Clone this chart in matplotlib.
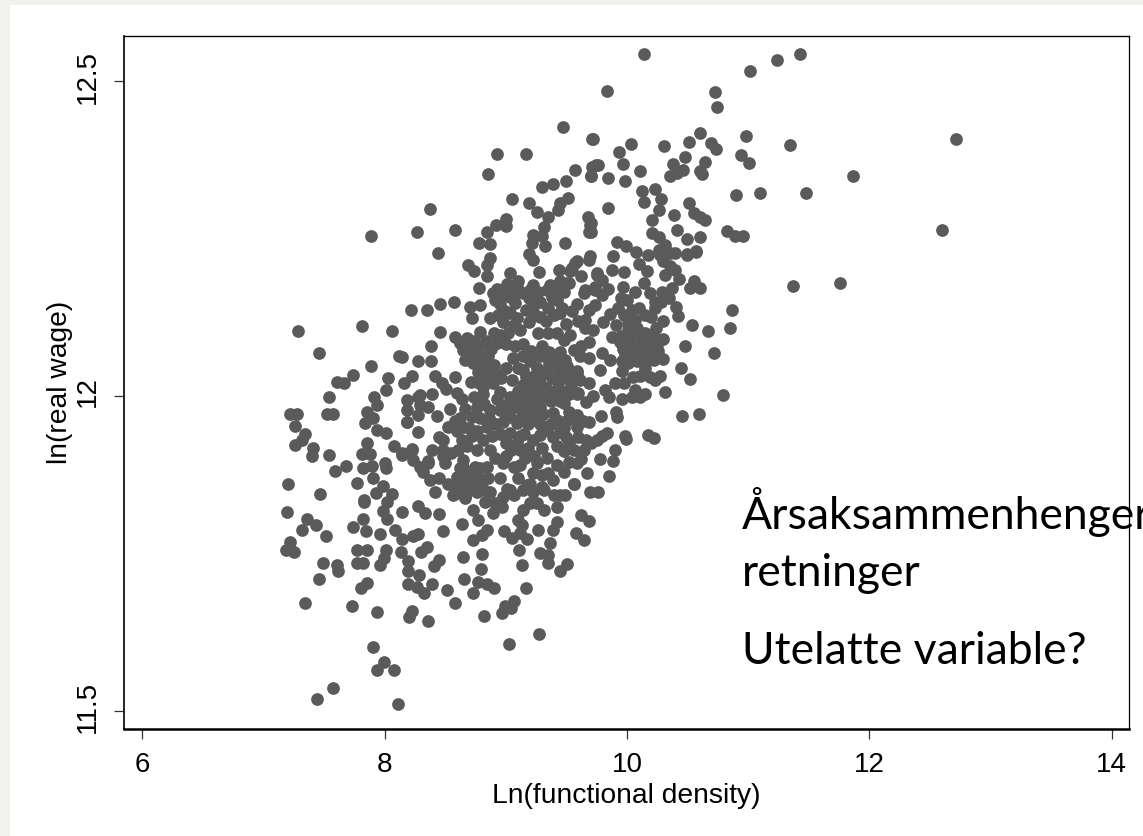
import matplotlib.pyplot as plt
from matplotlib.patches import Rectangle
from matplotlib.transforms import ScaledTranslation

# (ln functional density, ln real wage)
far_right = [
    (11.02, 12.517), (11.24, 12.534), (11.43, 12.543), (10.985, 12.413), (11.35, 12.399),
    (10.94, 12.383), (11.01, 12.371), (12.72, 12.408), (11.87, 12.35), (10.90, 12.32),
    (11.10, 12.322), (11.48, 12.322), (10.83, 12.262), (10.895, 12.254), (10.957, 12.254),
    (12.60, 12.264), (11.37, 12.175), (11.756, 12.18), (10.864, 12.136), (10.85, 12.108),
    (10.79, 12.002),
]
upper_right = [
    (10.137, 12.543), (9.835, 12.485), (10.73, 12.483), (10.743, 12.459), (9.72, 12.409),
    (10.03, 12.401), (9.934, 12.387), (9.97, 12.368), (10.308, 12.397), (10.512, 12.404),
    (10.60, 12.418), (10.694, 12.402), (10.732, 12.392), (10.479, 12.38), (10.38, 12.369),
    (10.647, 12.372), (10.60, 12.357), (10.62, 12.353), (10.462, 12.359), (10.413, 12.354),
    (10.352, 12.35), (10.112, 12.357), (9.765, 12.367), (9.71, 12.364), (9.705, 12.35),
    (9.848, 12.346), (9.984, 12.341), (10.127, 12.325), (10.137, 12.308), (10.234, 12.329),
    (10.281, 12.313), (10.267, 12.296), (10.512, 12.306), (10.55, 12.29), (10.605, 12.284),
    (10.647, 12.28), (10.39, 12.288), (10.211, 12.28), (9.848, 12.298), (9.705, 12.275),
    (9.705, 12.261), (10.413, 12.264), (10.60, 12.252), (10.498, 12.25), (10.206, 12.259),
    (10.261, 12.253), (10.316, 12.24), (10.358, 12.227), (9.922, 12.245), (9.994, 12.239),
    (10.077, 12.229), (10.178, 12.224), (10.275, 12.224), (9.885, 12.223), (10.572, 12.23),
    (10.50, 12.224),
]
right_middle = [
    (9.972, 12.197), (9.752, 12.195), (9.697, 12.222), (9.573, 12.211), (9.532, 12.198),
    (9.794, 12.185), (9.738, 12.174), (9.656, 12.169), (9.794, 12.161), (9.587, 12.147),
    (9.683, 12.137), (9.504, 12.179), (9.463, 12.14), (9.656, 12.121), (9.656, 12.108),
    (9.80, 12.118), (10.165, 12.198), (10.137, 12.179), (9.967, 12.174), (10.07, 12.166),
    (10.0, 12.153), (10.192, 12.163), (10.234, 12.15), (10.234, 12.14), (10.041, 12.137),
    (10.151, 12.129), (10.07, 12.121), (10.013, 12.116), (9.911, 12.113), (10.083, 12.108),
    (9.876, 12.094), (10.013, 12.105), (9.945, 12.086), (10.242, 12.108), (10.192, 12.097),
    (10.302, 12.091), (10.248, 12.081), (10.151, 12.079), (10.07, 12.071), (9.986, 12.065),
    (10.206, 12.071), (10.297, 12.059), (10.013, 12.052), (9.959, 12.039), (10.11, 12.063),
    (10.316, 12.192), (10.426, 12.186), (10.55, 12.182), (10.523, 12.171), (10.60, 12.171),
    (10.372, 12.171), (10.289, 12.166), (10.405, 12.142), (10.418, 12.127), (10.539, 12.113),
    (10.669, 12.104), (10.476, 12.079), (10.715, 12.069), (10.449, 12.044), (10.523, 12.027),
    (10.597, 11.972), (10.451, 11.969), (10.316, 12.006), (10.275, 12.032), (10.192, 12.03),
    (10.11, 12.032), (10.234, 12.026), (10.151, 12.003), (10.07, 12.01), (10.041, 11.999),
    (9.959, 11.995), (9.856, 11.999), (10.11, 11.999), (9.912, 11.975), (9.918, 11.967),
    (9.785, 11.969), (9.691, 11.958), (9.774, 12.041), (9.835, 11.941), (9.794, 11.936),
    (9.986, 11.936), (10.178, 11.938), (10.22, 11.933), (9.691, 12.086), (9.532, 12.097),
    (9.56, 12.073), (9.615, 12.063), (9.683, 12.06), (9.794, 12.068), (9.862, 12.057),
    (9.477, 12.089), (9.49, 12.057), (9.587, 12.036), (9.49, 12.041), (9.683, 12.02),
    (9.615, 12.026), (9.518, 12.004), (9.587, 12.004), (9.477, 11.989), (9.518, 11.975),
    (9.587, 11.97), (9.587, 11.951), (9.477, 11.949), (10.399, 12.227), (10.302, 12.214),
    (10.358, 12.206), (10.261, 12.232), (10.5, 12.226), (10.572, 12.229),
]
upper_left = [
    (7.891, 12.254), (8.376, 12.297), (8.266, 12.261), (8.58, 12.264), (8.444, 12.227),
    (8.931, 12.385), (9.171, 12.385), (9.472, 12.427), (9.713, 12.408), (8.857, 12.353),
    (9.571, 12.359), (9.703, 12.35), (9.744, 12.367), (9.498, 12.341), (9.386, 12.337),
    (9.303, 12.332), (9.05, 12.313), (9.193, 12.306), (9.257, 12.292), (9.51, 12.315),
    (9.449, 12.306), (9.435, 12.296), (9.352, 12.284), (9.319, 12.269), (9.678, 12.285),
    (9.697, 12.272), (9.689, 12.261), (9.485, 12.243), (9.328, 12.239), (9.298, 12.254),
    (9.229, 12.256), (9.216, 12.243), (9.188, 12.225), (9.229, 12.216), (9.0, 12.281),
    (9.0, 12.27), (8.918, 12.271), (8.844, 12.26), (8.783, 12.243), (8.871, 12.241),
    (8.871, 12.219), (8.844, 12.208), (8.844, 12.191), (8.692, 12.208), (8.742, 12.199),
    (8.783, 12.171), (9.039, 12.195), (9.009, 12.178), (9.10, 12.182), (9.278, 12.197),
    (8.898, 12.164), (8.981, 12.163), (9.146, 12.163), (9.229, 12.177), (9.366, 12.177),
    (9.449, 12.182), (9.518, 12.179), (9.546, 12.203), (9.587, 12.214), (9.683, 12.216),
    (9.752, 12.192), (9.738, 12.169), (9.642, 12.163),
]
centre = [
    (8.216, 12.137), (8.348, 12.137), (8.458, 12.146), (8.576, 12.149), (8.706, 12.142),
    (8.788, 12.145), (8.72, 12.124), (8.871, 12.124), (8.954, 12.147), (9.036, 12.158),
    (9.036, 12.132), (8.981, 12.118), (9.201, 12.169), (9.229, 12.142), (9.339, 12.169),
    (9.422, 12.153), (9.449, 12.132), (9.284, 12.126), (9.118, 12.166), (9.188, 12.118),
    (9.118, 12.105), (8.788, 12.102), (8.954, 12.097), (8.458, 12.102), (8.582, 12.093),
    (8.384, 12.08), (8.692, 12.078), (8.775, 12.073), (8.65, 12.073), (8.857, 12.063),
    (8.733, 12.052), (8.816, 12.036), (8.147, 12.062), (8.279, 12.056), (8.384, 12.056),
    (8.224, 12.032), (8.161, 12.02), (8.412, 12.032), (8.472, 12.02), (8.508, 12.011),
    (8.712, 12.023), (8.816, 12.015), (8.898, 12.02), (8.954, 12.007), (8.816, 12.004),
    (8.637, 11.995), (8.293, 12.002), (8.39, 12.004), (8.183, 11.994), (8.293, 11.986),
    (8.362, 11.983), (8.431, 11.969), (8.279, 11.97), (8.188, 11.978), (8.188, 11.958),
    (8.527, 11.951), (8.279, 11.943), (8.761, 11.983), (8.871, 11.978), (8.954, 11.978),
    (8.72, 11.967), (8.65, 11.951), (8.637, 11.93), (8.72, 11.936), (8.844, 11.951),
    (8.885, 11.936), (8.871, 11.914), (8.913, 11.901), (9.036, 11.967), (9.092, 11.957),
    (9.078, 11.983), (8.981, 11.959), (9.036, 11.999), (9.118, 11.999), (9.188, 12.02),
    (9.146, 12.041), (9.146, 12.063), (9.284, 12.063), (9.422, 12.057), (9.504, 12.047),
    (9.339, 12.041), (9.284, 12.02), (9.422, 12.026), (9.587, 12.039), (9.394, 12.004),
    (9.477, 12.007), (9.229, 12.004), (9.16, 11.978), (9.284, 11.983), (9.394, 11.973),
    (9.229, 11.962), (9.339, 11.946), (9.449, 11.943), (9.587, 11.962), (9.118, 11.936),
    (9.229, 11.93), (9.092, 11.925), (9.036, 11.941), (8.981, 11.893), (8.844, 11.888),
    (9.064, 11.888), (9.16, 11.901), (9.257, 11.893), (9.339, 11.901), (9.352, 11.877),
    (9.394, 11.867), (9.229, 11.877), (9.477, 11.912), (9.56, 11.914), (9.642, 11.914),
    (9.477, 11.88), (9.587, 11.893), (9.67, 11.877), (9.56, 11.861), (9.752, 11.93),
    (9.904, 11.914), (9.885, 11.897), (9.994, 11.932), (9.856, 11.873), (9.697, 11.848),
    (9.765, 11.848), (9.449, 11.843), (9.312, 11.851), (9.229, 11.848), (9.146, 11.851),
    (9.036, 11.851), (8.981, 11.84), (8.65, 11.888), (8.748, 11.888), (8.596, 11.872),
    (8.706, 11.861), (8.816, 11.867), (8.596, 11.846), (8.871, 11.848), (8.761, 11.848),
    (8.5, 11.893), (8.486, 11.914), (8.39, 11.914), (8.224, 11.914), (8.293, 11.888),
    (8.362, 11.893), (8.376, 11.867), (8.417, 11.848), (8.142, 11.909), (8.238, 11.898),
]
left_middle = [
    (7.288, 12.103), (7.817, 12.111), (8.062, 12.104), (7.457, 12.069), (8.122, 12.063),
    (7.891, 12.048), (7.742, 12.034), (7.605, 12.023), (7.666, 12.02), (7.539, 11.999),
    (8.031, 12.028), (8.01, 12.009), (7.916, 11.999), (7.941, 11.986), (7.523, 11.971),
    (7.577, 11.971), (7.22, 11.971), (7.28, 11.971), (7.261, 11.952), (7.853, 11.975),
    (7.903, 11.965), (7.839, 11.957), (7.936, 11.946), (8.012, 11.941), (7.344, 11.939),
    (7.261, 11.922), (7.316, 11.93), (7.412, 11.917), (7.399, 11.904), (7.539, 11.906),
    (7.853, 11.925), (7.812, 11.908), (7.88, 11.908), (8.081, 11.921), (8.142, 11.906),
    (8.227, 11.916), (8.004, 11.893), (8.01, 11.885), (7.682, 11.889), (7.591, 11.881),
    (7.825, 11.885), (7.894, 11.889), (7.903, 11.87), (7.77, 11.862), (7.201, 11.86),
    (7.467, 11.845), (7.93, 11.846), (7.99, 11.857), (8.059, 11.844), (7.833, 11.835),
    (8.486, 11.93), (8.486, 11.904), (8.32, 11.88), (8.362, 11.896), (8.568, 11.843),
    (8.65, 11.899), (8.637, 11.877), (8.624, 11.856), (8.279, 11.999), (8.183, 11.959),
]
lower_left = [
    (7.197, 11.816), (7.357, 11.804), (7.432, 11.795), (7.321, 11.787), (7.517, 11.778),
    (7.22, 11.768), (7.184, 11.755), (7.253, 11.752), (7.495, 11.734), (7.605, 11.732),
    (7.614, 11.722), (7.457, 11.71), (7.346, 11.671), (7.734, 11.666), (7.941, 11.657),
    (7.831, 11.831), (7.99, 11.817), (8.023, 11.832), (8.023, 11.804), (8.144, 11.815),
    (7.82, 11.804), (7.742, 11.792), (7.845, 11.786), (7.963, 11.781), (8.087, 11.787),
    (8.147, 11.773), (8.279, 11.825), (8.334, 11.814), (8.447, 11.813), (8.637, 11.797),
    (8.483, 11.786), (8.279, 11.781), (8.238, 11.777), (8.136, 11.753), (8.012, 11.755),
    (7.998, 11.742), (7.963, 11.732), (7.77, 11.756), (7.853, 11.755), (7.775, 11.734),
    (7.825, 11.735), (8.192, 11.738), (8.192, 11.722), (8.348, 11.76), (8.301, 11.752),
    (8.45, 11.739), (8.409, 11.73), (8.65, 11.744), (8.659, 11.71), (8.287, 11.716),
    (8.197, 11.701), (8.266, 11.696), (8.326, 11.687), (8.395, 11.701), (8.519, 11.692),
    (8.577, 11.671), (7.853, 11.703), (7.803, 11.695), (8.23, 11.659), (8.202, 11.649),
    (8.362, 11.643), (7.903, 11.602), (7.998, 11.577), (7.938, 11.564), (8.081, 11.564),
    (7.577, 11.536), (7.445, 11.518), (8.109, 11.511),
]
lower_centre = [
    (8.808, 11.749), (8.797, 11.725), (8.775, 11.705), (8.844, 11.701), (8.907, 11.695),
    (8.733, 11.687), (8.822, 11.65), (9.025, 11.606), (9.278, 11.622), (9.064, 11.675),
    (9.045, 11.663), (8.995, 11.666), (8.973, 11.656), (9.171, 11.695), (9.136, 11.732),
    (9.111, 11.755), (9.105, 11.803), (9.133, 11.795), (8.989, 11.786), (9.05, 11.774),
    (9.118, 11.782), (9.174, 11.773), (9.265, 11.787), (9.366, 11.766), (9.284, 11.75),
    (9.352, 11.747), (9.352, 11.734), (9.504, 11.733), (9.449, 11.722), (9.394, 11.787),
    (9.427, 11.8), (9.581, 11.782), (9.642, 11.772), (9.62, 11.811), (9.691, 11.801),
    (9.565, 11.86), (8.733, 11.771), (8.803, 11.779), (8.844, 11.787), (8.775, 11.803),
    (8.733, 11.819), (8.898, 11.814), (8.968, 11.824), (8.83, 11.832), (8.913, 11.83),
    (8.665, 11.838), (9.009, 11.853), (9.064, 11.843), (9.146, 11.819), (9.201, 11.83),
    (9.312, 11.819), (9.257, 11.83), (9.422, 11.824), (9.402, 11.843), (9.485, 11.843),
    (9.298, 11.856), (9.174, 11.859),
]
# overlapping dots inside the solid dark blobs, positions only estimated
dense_top = [
    (8.93, 12.17), (9.02, 12.172), (9.09, 12.174), (9.27, 12.165), (9.38, 12.158),
    (8.91, 12.152), (8.99, 12.135), (9.08, 12.148), (9.19, 12.155), (9.28, 12.15),
    (9.35, 12.14), (9.48, 12.165), (9.41, 12.172), (8.94, 12.128), (9.09, 12.124),
    (9.24, 12.128), (9.33, 12.12), (9.4, 12.128), (9.07, 12.113), (9.17, 12.136),
]
dense_left = [
    (8.62, 12.085), (8.68, 12.092), (8.74, 12.088), (8.82, 12.082), (8.88, 12.075),
    (8.66, 12.058), (8.72, 12.07), (8.79, 12.058), (8.84, 12.046), (8.9, 12.05),
    (8.77, 12.038), (8.86, 12.03), (8.92, 12.035), (8.78, 12.02), (8.96, 12.028),
    (8.84, 12.088), (8.93, 12.084), (9.0, 12.082), (8.9, 12.1), (9.02, 12.1),
]
dense_main = [
    (9.14, 12.082), (9.21, 12.072), (9.3, 12.08), (9.36, 12.07), (9.45, 12.07),
    (9.2, 12.055), (9.26, 12.045), (9.36, 12.052), (9.44, 12.043), (9.52, 12.03),
    (9.17, 12.03), (9.23, 12.032), (9.31, 12.035), (9.38, 12.028), (9.47, 12.028),
    (9.54, 12.018), (9.14, 12.018), (9.24, 12.012), (9.33, 12.012), (9.43, 12.014),
    (9.1, 12.008), (9.16, 12.004), (9.31, 11.998), (9.37, 11.992), (9.45, 11.992),
    (9.2, 11.99), (9.27, 11.998), (9.1, 11.988), (9.22, 11.975), (9.31, 11.972),
    (9.42, 11.962), (9.5, 11.96), (9.13, 11.968), (9.18, 11.955), (9.28, 11.955),
    (9.37, 11.955), (9.5, 11.935), (9.15, 11.94), (9.28, 11.938), (9.39, 11.935),
    (9.18, 11.918), (9.3, 11.918), (9.42, 11.92), (9.12, 11.915), (9.23, 11.905),
    (9.52, 11.925), (9.6, 11.935), (9.66, 11.93), (9.62, 11.9), (9.52, 11.895),
]
dense_low = [
    (8.66, 11.98), (8.74, 11.998), (8.82, 11.988), (8.93, 11.995), (9.0, 11.985),
    (8.62, 11.965), (8.7, 11.95), (8.79, 11.965), (8.86, 11.965), (8.92, 11.955),
    (8.99, 11.972), (8.6, 11.945), (8.76, 11.945), (8.81, 11.93), (8.95, 11.94),
    (9.0, 11.925), (8.68, 11.92), (8.76, 11.915), (8.61, 11.915), (9.04, 11.915),
    (8.62, 11.885), (8.69, 11.875), (8.76, 11.872), (8.67, 11.845), (8.74, 11.855),
    (8.82, 11.85), (8.59, 11.86), (8.79, 11.885), (8.63, 11.87), (8.85, 11.87),
]
dense_right = [
    (9.95, 12.095), (10.02, 12.09), (10.1, 12.095), (10.15, 12.1), (10.23, 12.092),
    (9.97, 12.075), (10.03, 12.078), (10.1, 12.08), (10.17, 12.085), (10.26, 12.072),
    (9.96, 12.055), (10.02, 12.062), (10.08, 12.055), (10.16, 12.062), (10.22, 12.058),
    (9.93, 12.14), (9.98, 12.128), (10.1, 12.14), (10.2, 12.125), (10.28, 12.15),
]
dense_fill = [
    (9.06, 12.06), (9.1, 12.045), (9.05, 12.025), (9.0, 12.045), (9.08, 12.08),
    (9.62, 12.08), (9.72, 12.105), (9.6, 12.12), (9.55, 12.135), (9.74, 12.145),
    (9.86, 12.13), (9.84, 12.17), (9.88, 12.2), (9.62, 12.19), (9.44, 12.2),
    (9.5, 12.115), (9.42, 12.1), (9.35, 12.1), (9.27, 12.1), (9.6, 12.005),
    (9.66, 11.99), (9.72, 12.0), (9.64, 11.96), (9.7, 11.925), (9.78, 11.9),
    (8.58, 12.03), (8.6, 12.005), (8.54, 11.98), (8.58, 11.96), (8.45, 11.935),
    (8.55, 11.91), (8.45, 11.87), (8.52, 11.86), (8.95, 11.87), (9.1, 11.87),
    (9.2, 11.86), (9.3, 11.875), (9.12, 11.89), (9.42, 11.89), (9.0, 11.905),
    (9.98, 12.02), (10.15, 12.045), (10.05, 12.03), (9.9, 12.02), (9.82, 12.01),
    (10.3, 12.12), (10.35, 12.155), (10.4, 12.2), (10.1, 12.21), (9.95, 12.155),
]

x_ticks = [6, 8, 10, 12, 14]
y_ticks = [11.5, 12, 12.5]
y_tick_labels = ['11.5', '12', '12.5']
notes = ['Årsaksammenhenger', 'retninger', 'Utelatte variable?']

regions = (far_right + upper_right + right_middle + upper_left + centre + left_middle + lower_left
           + lower_centre + dense_top + dense_left + dense_main + dense_low + dense_right + dense_fill)
ln_density = [p[0] for p in regions]
ln_wage = [p[1] for p in regions]

plt.rcParams['font.family'] = ['Liberation Sans', 'DejaVu Sans']

fig = plt.figure(figsize=(11.43, 8.36), dpi=100, facecolor='white')
W, H = 1143, 836

# slide background showing at the left and top edge
fig.add_artist(Rectangle((0, 0), 10 / W, 1, transform=fig.transFigure, color='#f1f2ee', lw=0))
fig.add_artist(Rectangle((0, 1 - 5 / H), 1, 5 / H, transform=fig.transFigure, color='#f1f2ee', lw=0))

ax = fig.add_axes([123.5 / W, 1 - 729 / H, (1128.5 - 123.5) / W, (729 - 36) / H])
ax.scatter(ln_density, ln_wage, s=84, color='#5a5a5a', linewidths=0, clip_on=False)

ax.set_xlim(5.845, 14.14)
ax.set_ylim(11.471, 12.572)
ax.set_xticks(x_ticks)
ax.set_yticks(y_ticks)
ax.set_yticklabels(y_tick_labels, rotation=90, va='center')
ax.tick_params(axis='both', length=7.5, width=0.9, color='#333333', labelsize=20, pad=9)
ax.tick_params(axis='x', pad=9)

# rotated labels sit a little low otherwise
shift_up = ScaledTranslation(0, 3 / 72, fig.dpi_scale_trans)
for lab in ax.get_yticklabels():
    lab.set_transform(lab.get_transform() + shift_up)

ax.set_xlabel('Ln(functional density)', fontsize=20.3, labelpad=4)
ax.set_ylabel('ln(real wage)', fontsize=20.3, labelpad=1)

for side, lw in {'left': 1.2, 'right': 0.9, 'top': 1.0, 'bottom': 1.8}.items():
    ax.spines[side].set_linewidth(lw)

# slide text box on top of the chart, runs off the right edge
for line, y_px in zip(notes, [529, 586, 664]):
    fig.text(742 / W, 1 - y_px / H, line, family='Lato', fontsize=32, color='black', va='baseline')

fig.savefig('out.png', dpi=100)
